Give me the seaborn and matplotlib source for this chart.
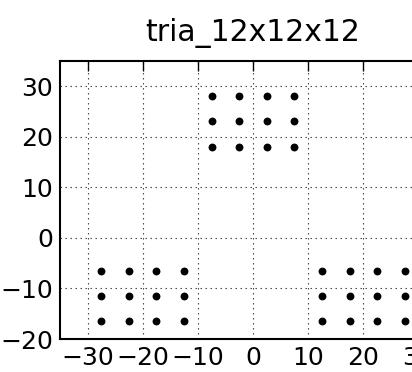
import itertools
import pandas as pd
import seaborn as sns
import matplotlib
matplotlib.use("Agg")
import matplotlib.pyplot as plt

# values: three 4x3 blocks of points
groups = ["top", "bottom_left", "bottom_right"]
group_x = {
    "top": [-7.5, -2.5, 2.5, 7.5],
    "bottom_left": [-27.5, -22.5, -17.5, -12.5],
    "bottom_right": [12.5, 17.5, 22.5, 27.5],
}
group_y = {
    "top": [28, 23, 18],
    "bottom_left": [-6.5, -11.5, -16.5],
    "bottom_right": [-6.5, -11.5, -16.5],
}
x_ticks = [-30, -20, -10, 0, 10, 20, 30]
y_ticks = [-20, -10, 0, 10, 20, 30]
title = "tria_12x12x12"

rows = []
for g in groups:
    for xv, yv in itertools.product(group_x[g], group_y[g]):
        rows.append({"x": xv, "y": yv, "group": g})
df = pd.DataFrame(rows)

sns.set_style("white")
plt.rcParams["font.family"] = ["DejaVu Sans"]
plt.rcParams["text.color"] = "black"

fig = plt.figure(figsize=(4.12, 3.72), dpi=100)
ax = fig.add_axes([0.1456, 0.0887, 0.937, 0.748])

sns.scatterplot(data=df, x="x", y="y", color="black", s=32,
                edgecolor="black", linewidth=0, legend=False, ax=ax)

ax.set_xlim(-35, 35)
ax.set_ylim(-20, 35)
ax.set_xticks(x_ticks)
ax.set_yticks(y_ticks)
ax.set_xlabel("")
ax.set_ylabel("")
ax.grid(True, linestyle=(0, (1.3, 3.2)), color="#444444", linewidth=0.8)
ax.set_axisbelow(True)
ax.tick_params(direction="in", length=7, width=1, colors="black",
               labelsize=18, top=True, right=True, pad=5)
for sp in ax.spines.values():
    sp.set_visible(True)
    sp.set_color("black")
    sp.set_linewidth(1.5)
ax.set_title(title, fontsize=21.5, pad=14, color="black")

fig.savefig("out.png", dpi=100)
